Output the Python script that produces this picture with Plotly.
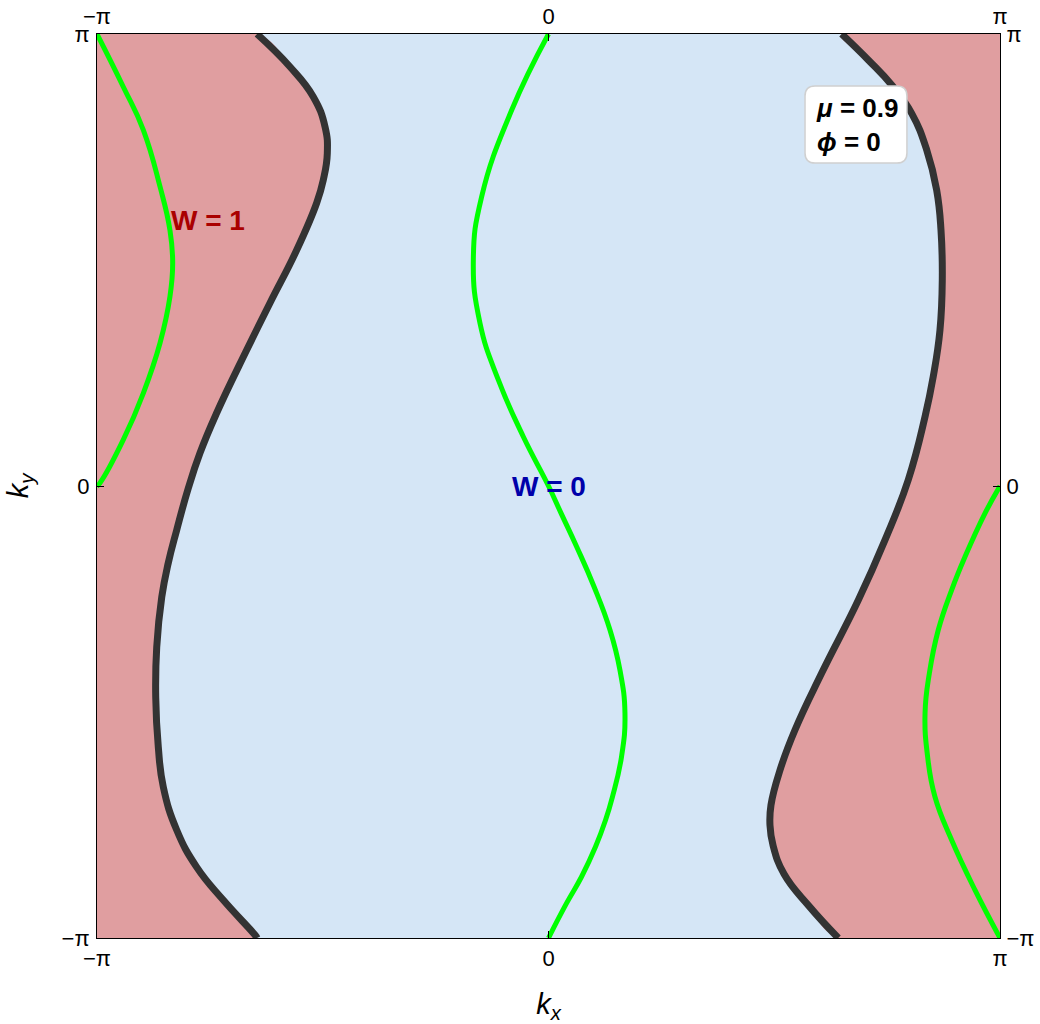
import numpy as np
import plotly.graph_objects as go

PI = np.pi

# boundary curve on the left (dark), read from top to bottom
left_edge_kx = [-2.028, -1.799, -1.637, -1.555, -1.539, -1.567, -1.613, -1.752, -1.938,
                -2.100, -2.309, -2.425, -2.506, -2.587, -2.646, -2.691, -2.726,
                -2.733, -2.715, -2.680, -2.587, -2.448, -2.263, -2.042, -2.028]
left_edge_ky = [3.1416, 2.914, 2.706, 2.497, 2.314, 2.127, 1.967, 1.640, 1.272,
                0.945, 0.507, 0.229, -0.014, -0.306, -0.536, -0.772, -1.119,
                -1.467, -1.815, -2.093, -2.391, -2.649, -2.878, -3.121, -3.1416]

# boundary curve on the right (dark), read from top to bottom
right_edge_kx = [2.040, 2.225, 2.388, 2.527, 2.632, 2.701, 2.731, 2.740, 2.724, 2.677,
                 2.620, 2.503, 2.341, 2.156, 1.901, 1.715, 1.611, 1.548, 1.541, 1.562,
                 1.639, 1.813, 2.016]
right_edge_ky = [3.1416, 2.961, 2.787, 2.590, 2.335, 2.057, 1.779, 1.432, 1.084, 0.760,
                 0.482, 0.042, -0.376, -0.793, -1.300, -1.696, -1.974, -2.218, -2.357, -2.496,
                 -2.697, -2.920, -3.1416]

# green curves
green_left_kx = [-3.1416, -2.959, -2.819, -2.703, -2.634, -2.615, -2.634, -2.703, -2.819, -2.959, -3.121, -3.1416]
green_left_ky = [3.1416, 2.775, 2.474, 2.080, 1.779, 1.550, 1.316, 0.994, 0.646, 0.320, 0.021, 0.0]

green_mid_kx = [0.0, -0.256, -0.465, -0.523, -0.477, -0.349, -0.175, 0.0,
                0.088, 0.196, 0.317, 0.428, 0.497, 0.532, 0.508, 0.445, 0.397,
                0.327, 0.230, 0.125, 0.0]
green_mid_ky = [3.1416, 2.613, 2.011, 1.571, 1.133, 0.737, 0.342, 0.0,
                -0.190, -0.422, -0.700, -1.001, -1.279, -1.580, -1.882, -2.160, -2.322,
                -2.508, -2.716, -2.901, -3.1416]

green_right_kx = [3.1416, 3.037, 2.898, 2.805, 2.712, 2.650, 2.620, 2.638, 2.689, 2.805, 2.968, 3.1416]
green_right_ky = [0.0, -0.190, -0.492, -0.723, -1.001, -1.302, -1.580, -1.882, -2.160, -2.461, -2.809, -3.1416]

tick_vals = [-PI, 0, PI]
tick_text = ["\u2212\u03c0", "0", "\u03c0"]

RED = "#E09EA0"
BLUE = "#D5E6F6"
DARK = "#333333"
GREEN = "#00FF00"
FONT = "Liberation Sans"
SMOOTH = 1.3

fig = go.Figure()

# W = 1 regions
fig.add_trace(go.Scatter(
    x=[-PI] + left_edge_kx + [-PI], y=[PI] + left_edge_ky + [-PI],
    fill="toself", fillcolor=RED, mode="lines", line=dict(width=0, shape="spline", smoothing=SMOOTH),
    hoverinfo="skip", showlegend=False))
fig.add_trace(go.Scatter(
    x=[PI] + right_edge_kx + [PI], y=[PI] + right_edge_ky + [-PI],
    fill="toself", fillcolor=RED, mode="lines", line=dict(width=0, shape="spline", smoothing=SMOOTH),
    hoverinfo="skip", showlegend=False))

for gx, gy in [(green_left_kx, green_left_ky), (green_mid_kx, green_mid_ky), (green_right_kx, green_right_ky)]:
    fig.add_trace(go.Scatter(x=gx, y=gy, mode="lines",
                             line=dict(color=GREEN, width=5, shape="spline", smoothing=SMOOTH),
                             hoverinfo="skip", showlegend=False))

for bx, by in [(left_edge_kx, left_edge_ky), (right_edge_kx, right_edge_ky)]:
    fig.add_trace(go.Scatter(x=bx, y=by, mode="lines",
                             line=dict(color=DARK, width=7, shape="spline", smoothing=SMOOTH),
                             hoverinfo="skip", showlegend=False))

# dummy trace so the top/right axes get drawn
fig.add_trace(go.Scatter(x=[-PI, PI], y=[-PI, PI], xaxis="x2", yaxis="y2",
                         mode="markers", marker=dict(opacity=0),
                         hoverinfo="skip", showlegend=False))

axis_common = dict(range=[-PI, PI], tickvals=tick_vals, ticktext=tick_text,
                   ticks="inside", ticklen=7, tickcolor="black", automargin=False,
                   showgrid=False, zeroline=False, showline=True, linecolor="black",
                   linewidth=1, tickfont=dict(family=FONT, size=22, color="black"))

# rounded box behind the parameter label
bx0, bx1, by0, by1, rr = 1.785, 2.494, 2.245, 2.780, 0.07
box_path = (f"M {bx0 + rr},{by0} L {bx1 - rr},{by0} Q {bx1},{by0} {bx1},{by0 + rr} "
            f"L {bx1},{by1 - rr} Q {bx1},{by1} {bx1 - rr},{by1} "
            f"L {bx0 + rr},{by1} Q {bx0},{by1} {bx0},{by1 - rr} "
            f"L {bx0},{by0 + rr} Q {bx0},{by0} {bx0 + rr},{by0} Z")

fig.update_layout(
    width=1040, height=1024,
    margin=dict(l=97, r=40, t=34, b=86),
    plot_bgcolor=BLUE, paper_bgcolor="white",
    xaxis=dict(**axis_common, mirror=True, ticklabelstandoff=1,
               title=dict(text="<i>k</i><sub><i>x</i></sub>", font=dict(family=FONT, size=29, color="black"), standoff=24)),
    yaxis=dict(**axis_common, mirror=True, ticklabelstandoff=2,
               title=dict(text="<i>k</i><sub><i>y</i></sub>", font=dict(family=FONT, size=29, color="black"), standoff=24)),
    xaxis2=dict(**axis_common, overlaying="x", side="top", ticklabelstandoff=0),
    yaxis2=dict(**axis_common, overlaying="y", side="right", ticklabelstandoff=1),
    shapes=[dict(type="path", path=box_path, xref="x", yref="y",
                 fillcolor="white", line=dict(color="#D0D0D0", width=1.5), layer="above")],
    annotations=[
        dict(x=-2.369, y=1.842, text="<b>W = 1</b>", showarrow=False,
             font=dict(family=FONT, size=28, color="#AA0000")),
        dict(x=0.0, y=0.0, text="<b>W = 0</b>", showarrow=False,
             font=dict(family=FONT, size=28, color="#0000AA")),
        dict(x=1.847, y=2.509, xanchor="left", text="<b><i>\u03bc</i> = 0.9<br><i>\u03d5</i> = 0</b>",
             showarrow=False, align="left",
             font=dict(family=FONT, size=26, color="black")),
    ],
)

# drop the browser's default 8px body margin so the figure sits at the page corner
fig.write_html("out.html", config={"displayModeBar": False},
               post_script="document.body.style.margin='0';")
